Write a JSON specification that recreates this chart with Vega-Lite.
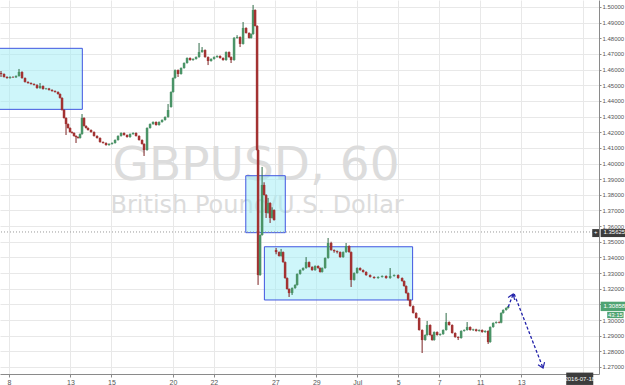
{
  "$schema": "https://vega.github.io/schema/vega-lite/v6.json",
  "width": 599,
  "height": 374,
  "autosize": "none",
  "padding": {"left": 0, "top": 0, "right": 26, "bottom": 11},
  "background": "#ffffff",
  "config": {"view": {"stroke": null}, "font": "Liberation Sans",
    "axisY": {"labelOverlap": false, "labelFlush": false, "labelBound": false},
    "axisX": {"labelOverlap": false, "labelFlush": false}},
  "datasets": {
    "c": [
      {"t":-0.391,"o":1.4578,"h":1.4591,"l":1.4553,"c":1.4572},
      {"t":-0.244,"o":1.4572,"h":1.4576,"l":1.4549,"c":1.4553},
      {"t":-0.098,"o":1.4553,"h":1.4557,"l":1.4542,"c":1.4546},
      {"t":0.049,"o":1.4546,"h":1.4557,"l":1.4542,"c":1.4553},
      {"t":0.195,"o":1.4553,"h":1.4557,"l":1.4547,"c":1.4551},
      {"t":0.342,"o":1.4551,"h":1.4563,"l":1.4547,"c":1.4559},
      {"t":0.488,"o":1.4559,"h":1.4604,"l":1.4555,"c":1.4585},
      {"t":0.635,"o":1.4585,"h":1.4589,"l":1.4542,"c":1.4546},
      {"t":0.781,"o":1.4546,"h":1.4550,"l":1.4517,"c":1.4521},
      {"t":0.928,"o":1.4521,"h":1.4525,"l":1.4510,"c":1.4514},
      {"t":1.074,"o":1.4514,"h":1.4518,"l":1.4504,"c":1.4508},
      {"t":1.221,"o":1.4508,"h":1.4512,"l":1.4498,"c":1.4502},
      {"t":1.367,"o":1.4502,"h":1.4506,"l":1.4478,"c":1.4482},
      {"t":1.514,"o":1.4482,"h":1.4514,"l":1.4478,"c":1.4495},
      {"t":1.660,"o":1.4495,"h":1.4499,"l":1.4472,"c":1.4476},
      {"t":1.807,"o":1.4476,"h":1.4483,"l":1.4472,"c":1.4479},
      {"t":1.953,"o":1.4479,"h":1.4483,"l":1.4466,"c":1.4470},
      {"t":2.100,"o":1.4470,"h":1.4474,"l":1.4459,"c":1.4463},
      {"t":2.246,"o":1.4463,"h":1.4467,"l":1.4453,"c":1.4457},
      {"t":2.393,"o":1.4457,"h":1.4461,"l":1.4440,"c":1.4444},
      {"t":2.490,"o":1.4444,"h":1.4448,"l":1.4415,"c":1.4419},
      {"t":2.588,"o":1.4419,"h":1.4423,"l":1.4338,"c":1.4342},
      {"t":2.686,"o":1.4342,"h":1.4346,"l":1.4287,"c":1.4291},
      {"t":2.783,"o":1.4291,"h":1.4295,"l":1.4182,"c":1.4252},
      {"t":2.881,"o":1.4252,"h":1.4256,"l":1.4223,"c":1.4227},
      {"t":2.979,"o":1.4227,"h":1.4231,"l":1.4197,"c":1.4201},
      {"t":3.076,"o":1.4201,"h":1.4205,"l":1.4191,"c":1.4195},
      {"t":3.174,"o":1.4195,"h":1.4199,"l":1.4172,"c":1.4176},
      {"t":3.271,"o":1.4176,"h":1.4180,"l":1.4131,"c":1.4169},
      {"t":3.369,"o":1.4169,"h":1.4173,"l":1.4159,"c":1.4163},
      {"t":3.467,"o":1.4163,"h":1.4192,"l":1.4159,"c":1.4188},
      {"t":3.564,"o":1.4188,"h":1.4316,"l":1.4184,"c":1.4291},
      {"t":3.662,"o":1.4291,"h":1.4295,"l":1.4236,"c":1.4240},
      {"t":3.760,"o":1.4240,"h":1.4244,"l":1.4223,"c":1.4227},
      {"t":3.857,"o":1.4227,"h":1.4231,"l":1.4210,"c":1.4214},
      {"t":4.004,"o":1.4214,"h":1.4218,"l":1.4197,"c":1.4201},
      {"t":4.150,"o":1.4201,"h":1.4205,"l":1.4172,"c":1.4176},
      {"t":4.297,"o":1.4176,"h":1.4180,"l":1.4159,"c":1.4163},
      {"t":4.443,"o":1.4163,"h":1.4167,"l":1.4133,"c":1.4137},
      {"t":4.590,"o":1.4137,"h":1.4141,"l":1.4127,"c":1.4131},
      {"t":4.736,"o":1.4131,"h":1.4135,"l":1.4114,"c":1.4118},
      {"t":4.883,"o":1.4118,"h":1.4129,"l":1.4114,"c":1.4125},
      {"t":5.029,"o":1.4125,"h":1.4135,"l":1.4121,"c":1.4131},
      {"t":5.176,"o":1.4131,"h":1.4154,"l":1.4127,"c":1.4150},
      {"t":5.322,"o":1.4150,"h":1.4180,"l":1.4146,"c":1.4176},
      {"t":5.469,"o":1.4176,"h":1.4199,"l":1.4172,"c":1.4195},
      {"t":5.615,"o":1.4195,"h":1.4199,"l":1.4178,"c":1.4182},
      {"t":5.762,"o":1.4182,"h":1.4186,"l":1.4165,"c":1.4169},
      {"t":5.908,"o":1.4169,"h":1.4192,"l":1.4165,"c":1.4188},
      {"t":6.055,"o":1.4188,"h":1.4199,"l":1.4184,"c":1.4195},
      {"t":6.201,"o":1.4195,"h":1.4199,"l":1.4172,"c":1.4176},
      {"t":6.348,"o":1.4176,"h":1.4180,"l":1.4146,"c":1.4150},
      {"t":6.494,"o":1.4150,"h":1.4154,"l":1.4121,"c":1.4125},
      {"t":6.592,"o":1.4125,"h":1.4129,"l":1.4048,"c":1.4086},
      {"t":6.738,"o":1.4086,"h":1.4231,"l":1.4082,"c":1.4227},
      {"t":6.885,"o":1.4227,"h":1.4256,"l":1.4223,"c":1.4252},
      {"t":7.031,"o":1.4252,"h":1.4269,"l":1.4248,"c":1.4265},
      {"t":7.178,"o":1.4265,"h":1.4269,"l":1.4242,"c":1.4246},
      {"t":7.324,"o":1.4246,"h":1.4269,"l":1.4242,"c":1.4265},
      {"t":7.471,"o":1.4265,"h":1.4282,"l":1.4261,"c":1.4278},
      {"t":7.617,"o":1.4278,"h":1.4301,"l":1.4274,"c":1.4297},
      {"t":7.764,"o":1.4297,"h":1.4380,"l":1.4293,"c":1.4342},
      {"t":7.910,"o":1.4361,"h":1.4461,"l":1.4357,"c":1.4457},
      {"t":8.008,"o":1.4457,"h":1.4550,"l":1.4453,"c":1.4546},
      {"t":8.105,"o":1.4546,"h":1.4601,"l":1.4542,"c":1.4597},
      {"t":8.252,"o":1.4597,"h":1.4601,"l":1.4553,"c":1.4572},
      {"t":8.398,"o":1.4572,"h":1.4614,"l":1.4568,"c":1.4610},
      {"t":8.545,"o":1.4610,"h":1.4646,"l":1.4606,"c":1.4642},
      {"t":8.691,"o":1.4642,"h":1.4678,"l":1.4638,"c":1.4674},
      {"t":8.838,"o":1.4674,"h":1.4678,"l":1.4657,"c":1.4661},
      {"t":8.984,"o":1.4661,"h":1.4672,"l":1.4657,"c":1.4668},
      {"t":9.131,"o":1.4668,"h":1.4684,"l":1.4664,"c":1.4680},
      {"t":9.277,"o":1.4680,"h":1.4770,"l":1.4676,"c":1.4712},
      {"t":9.424,"o":1.4712,"h":1.4744,"l":1.4708,"c":1.4725},
      {"t":9.570,"o":1.4725,"h":1.4729,"l":1.4676,"c":1.4680},
      {"t":9.717,"o":1.4680,"h":1.4684,"l":1.4629,"c":1.4655},
      {"t":9.863,"o":1.4655,"h":1.4672,"l":1.4651,"c":1.4668},
      {"t":10.010,"o":1.4668,"h":1.4684,"l":1.4664,"c":1.4680},
      {"t":10.156,"o":1.4680,"h":1.4691,"l":1.4676,"c":1.4687},
      {"t":10.303,"o":1.4687,"h":1.4691,"l":1.4670,"c":1.4674},
      {"t":10.449,"o":1.4674,"h":1.4678,"l":1.4657,"c":1.4661},
      {"t":10.596,"o":1.4661,"h":1.4716,"l":1.4657,"c":1.4712},
      {"t":10.742,"o":1.4712,"h":1.4716,"l":1.4676,"c":1.4680},
      {"t":10.840,"o":1.4680,"h":1.4684,"l":1.4642,"c":1.4661},
      {"t":10.986,"o":1.4661,"h":1.4808,"l":1.4657,"c":1.4802},
      {"t":11.133,"o":1.4802,"h":1.4820,"l":1.4798,"c":1.4808},
      {"t":11.279,"o":1.4808,"h":1.4812,"l":1.4744,"c":1.4764},
      {"t":11.426,"o":1.4764,"h":1.4904,"l":1.4760,"c":1.4866},
      {"t":11.572,"o":1.4866,"h":1.4870,"l":1.4830,"c":1.4834},
      {"t":11.719,"o":1.4834,"h":1.4838,"l":1.4798,"c":1.4802},
      {"t":11.816,"o":1.4802,"h":1.4831,"l":1.4798,"c":1.4827},
      {"t":11.914,"o":1.4827,"h":1.5013,"l":1.4823,"c":1.4981},
      {"t":12.012,"o":1.4981,"h":1.4985,"l":1.4875,"c":1.4879},
      {"t":12.109,"o":1.4879,"h":1.4883,"l":1.4082,"c":1.4086},
      {"t":12.158,"o":1.4086,"h":1.4090,"l":1.3224,"c":1.3287},
      {"t":12.256,"o":1.3287,"h":1.3547,"l":1.3283,"c":1.3543},
      {"t":12.354,"o":1.3543,"h":1.3978,"l":1.3539,"c":1.3863},
      {"t":12.451,"o":1.3863,"h":1.3880,"l":1.3795,"c":1.3799},
      {"t":12.549,"o":1.3799,"h":1.3803,"l":1.3652,"c":1.3684},
      {"t":12.646,"o":1.3684,"h":1.3780,"l":1.3680,"c":1.3748},
      {"t":12.744,"o":1.3748,"h":1.3752,"l":1.3620,"c":1.3652},
      {"t":12.842,"o":1.3652,"h":1.3720,"l":1.3648,"c":1.3703},
      {"t":12.939,"o":1.3703,"h":1.3707,"l":1.3635,"c":1.3639},
      {"t":13.037,"o":1.3447,"h":1.3460,"l":1.3420,"c":1.3434},
      {"t":13.184,"o":1.3434,"h":1.3438,"l":1.3405,"c":1.3409},
      {"t":13.281,"o":1.3409,"h":1.3454,"l":1.3405,"c":1.3434},
      {"t":13.379,"o":1.3434,"h":1.3438,"l":1.3366,"c":1.3370},
      {"t":13.477,"o":1.3370,"h":1.3374,"l":1.3264,"c":1.3268},
      {"t":13.574,"o":1.3268,"h":1.3272,"l":1.3194,"c":1.3198},
      {"t":13.672,"o":1.3198,"h":1.3202,"l":1.3147,"c":1.3172},
      {"t":13.818,"o":1.3172,"h":1.3208,"l":1.3160,"c":1.3204},
      {"t":13.965,"o":1.3204,"h":1.3228,"l":1.3200,"c":1.3224},
      {"t":14.063,"o":1.3224,"h":1.3298,"l":1.3220,"c":1.3294},
      {"t":14.209,"o":1.3294,"h":1.3323,"l":1.3290,"c":1.3319},
      {"t":14.355,"o":1.3319,"h":1.3336,"l":1.3315,"c":1.3332},
      {"t":14.502,"o":1.3332,"h":1.3402,"l":1.3328,"c":1.3370},
      {"t":14.648,"o":1.3370,"h":1.3374,"l":1.3335,"c":1.3339},
      {"t":14.795,"o":1.3339,"h":1.3343,"l":1.3315,"c":1.3319},
      {"t":14.941,"o":1.3319,"h":1.3349,"l":1.3315,"c":1.3345},
      {"t":15.088,"o":1.3345,"h":1.3349,"l":1.3328,"c":1.3332},
      {"t":15.186,"o":1.3332,"h":1.3336,"l":1.3303,"c":1.3307},
      {"t":15.283,"o":1.3307,"h":1.3336,"l":1.3303,"c":1.3332},
      {"t":15.430,"o":1.3332,"h":1.3400,"l":1.3328,"c":1.3396},
      {"t":15.576,"o":1.3396,"h":1.3524,"l":1.3392,"c":1.3492},
      {"t":15.723,"o":1.3492,"h":1.3500,"l":1.3443,"c":1.3447},
      {"t":15.869,"o":1.3447,"h":1.3451,"l":1.3430,"c":1.3440},
      {"t":16.016,"o":1.3440,"h":1.3444,"l":1.3425,"c":1.3434},
      {"t":16.162,"o":1.3434,"h":1.3438,"l":1.3398,"c":1.3402},
      {"t":16.309,"o":1.3402,"h":1.3438,"l":1.3398,"c":1.3434},
      {"t":16.455,"o":1.3434,"h":1.3492,"l":1.3430,"c":1.3473},
      {"t":16.602,"o":1.3473,"h":1.3477,"l":1.3430,"c":1.3434},
      {"t":16.699,"o":1.3434,"h":1.3438,"l":1.3211,"c":1.3256},
      {"t":16.846,"o":1.3256,"h":1.3304,"l":1.3252,"c":1.3300},
      {"t":16.992,"o":1.3300,"h":1.3336,"l":1.3296,"c":1.3332},
      {"t":17.139,"o":1.3332,"h":1.3336,"l":1.3315,"c":1.3319},
      {"t":17.285,"o":1.3319,"h":1.3323,"l":1.3303,"c":1.3307},
      {"t":17.432,"o":1.3307,"h":1.3311,"l":1.3283,"c":1.3287},
      {"t":17.627,"o":1.3287,"h":1.3291,"l":1.3271,"c":1.3275},
      {"t":17.822,"o":1.3275,"h":1.3279,"l":1.3264,"c":1.3268},
      {"t":18.018,"o":1.3268,"h":1.3279,"l":1.3264,"c":1.3275},
      {"t":18.213,"o":1.3275,"h":1.3285,"l":1.3271,"c":1.3281},
      {"t":18.408,"o":1.3281,"h":1.3285,"l":1.3264,"c":1.3268},
      {"t":18.604,"o":1.3268,"h":1.3332,"l":1.3264,"c":1.3281},
      {"t":18.799,"o":1.3281,"h":1.3291,"l":1.3277,"c":1.3287},
      {"t":18.994,"o":1.3287,"h":1.3291,"l":1.3264,"c":1.3268},
      {"t":19.189,"o":1.3268,"h":1.3272,"l":1.3245,"c":1.3249},
      {"t":19.287,"o":1.3249,"h":1.3253,"l":1.3213,"c":1.3217},
      {"t":19.385,"o":1.3217,"h":1.3221,"l":1.3168,"c":1.3172},
      {"t":19.482,"o":1.3172,"h":1.3176,"l":1.3124,"c":1.3128},
      {"t":19.580,"o":1.3128,"h":1.3132,"l":1.3085,"c":1.3089},
      {"t":19.727,"o":1.3089,"h":1.3093,"l":1.3041,"c":1.3045},
      {"t":19.873,"o":1.3045,"h":1.3049,"l":1.3009,"c":1.3013},
      {"t":20.020,"o":1.3013,"h":1.3017,"l":1.2932,"c":1.2936},
      {"t":20.166,"o":1.2936,"h":1.2940,"l":1.2789,"c":1.2872},
      {"t":20.313,"o":1.2872,"h":1.2908,"l":1.2868,"c":1.2904},
      {"t":20.410,"o":1.2904,"h":1.2994,"l":1.2900,"c":1.2968},
      {"t":20.557,"o":1.2968,"h":1.2972,"l":1.2900,"c":1.2904},
      {"t":20.654,"o":1.2904,"h":1.2908,"l":1.2868,"c":1.2872},
      {"t":20.752,"o":1.2872,"h":1.2927,"l":1.2868,"c":1.2923},
      {"t":20.898,"o":1.2923,"h":1.2927,"l":1.2900,"c":1.2904},
      {"t":21.045,"o":1.2904,"h":1.2914,"l":1.2900,"c":1.2910},
      {"t":21.191,"o":1.2910,"h":1.2940,"l":1.2906,"c":1.2936},
      {"t":21.338,"o":1.2936,"h":1.3045,"l":1.2932,"c":1.2987},
      {"t":21.484,"o":1.2987,"h":1.2991,"l":1.2964,"c":1.2968},
      {"t":21.631,"o":1.2968,"h":1.2972,"l":1.2913,"c":1.2917},
      {"t":21.777,"o":1.2917,"h":1.2921,"l":1.2887,"c":1.2891},
      {"t":21.924,"o":1.2891,"h":1.2895,"l":1.2872,"c":1.2885},
      {"t":22.070,"o":1.2885,"h":1.2934,"l":1.2881,"c":1.2930},
      {"t":22.217,"o":1.2930,"h":1.2940,"l":1.2926,"c":1.2936},
      {"t":22.363,"o":1.2936,"h":1.2987,"l":1.2932,"c":1.2955},
      {"t":22.510,"o":1.2955,"h":1.2959,"l":1.2932,"c":1.2936},
      {"t":22.656,"o":1.2936,"h":1.2944,"l":1.2930,"c":1.2940},
      {"t":22.803,"o":1.2940,"h":1.2944,"l":1.2926,"c":1.2930},
      {"t":22.949,"o":1.2930,"h":1.2940,"l":1.2926,"c":1.2936},
      {"t":23.096,"o":1.2936,"h":1.2940,"l":1.2919,"c":1.2923},
      {"t":23.242,"o":1.2923,"h":1.2934,"l":1.2919,"c":1.2930},
      {"t":23.389,"o":1.2930,"h":1.2934,"l":1.2847,"c":1.2859},
      {"t":23.486,"o":1.2859,"h":1.2959,"l":1.2855,"c":1.2955},
      {"t":23.633,"o":1.2955,"h":1.2985,"l":1.2951,"c":1.2981},
      {"t":23.779,"o":1.2981,"h":1.2991,"l":1.2977,"c":1.2987},
      {"t":23.926,"o":1.2987,"h":1.2991,"l":1.2979,"c":1.2983},
      {"t":24.023,"o":1.2983,"h":1.3049,"l":1.2979,"c":1.3045},
      {"t":24.121,"o":1.3045,"h":1.3068,"l":1.3041,"c":1.3064},
      {"t":24.268,"o":1.3064,"h":1.3081,"l":1.3060,"c":1.3077},
      {"t":24.365,"o":1.3077,"h":1.3090,"l":1.3073,"c":1.3086}
    ],
    "boxes": [
      {"t1": -1.0, "t2": 3.579, "v1": 1.4736, "v2": 1.4346},
      {"t1": 11.558, "t2": 13.486, "v1": 1.3922, "v2": 1.3558},
      {"t1": 12.466, "t2": 19.702, "v1": 1.3468, "v2": 1.3128}
    ],
    "arrow": [
      {"seg": "A", "t": 24.37, "v": 1.3083, "tip": false},
      {"seg": "A", "t": 24.61, "v": 1.3166, "tip": true},
      {"seg": "B", "t": 24.66, "v": 1.3166, "tip": false},
      {"seg": "B", "t": 26.07, "v": 1.2693, "tip": true}
    ]
  },
  "encoding": {
    "x": {"field": "t", "type": "quantitative"}
  },
  "layer": [
    {
      "data": {"values": [{"t": 12.06, "v": 1.3894, "txt": "GBPUSD, 60"}]},
      "mark": {"type": "text", "font": "DejaVu Sans", "fontSize": 47, "fill": "#dcdcdc", "align": "center", "baseline": "alphabetic"},
      "encoding": {
        "x": {"field": "t", "type": "quantitative", "scale": {"domain": [-0.44, 28.8], "nice": false, "zero": false, "padding": 0},
          "axis": {"orient": "bottom", "values": [0, 3, 5, 8, 10, 13, 15, 17, 19, 21, 23, 25, 28], "tickCount": 40,
            "labelExpr": "['8','','','13','','15','','','20','','22','','','27','','29','','Jul','','5','','7','','11','','13','','','',''][datum.value]",
            "title": null, "grid": true, "gridColor": "#e8e8e8", "domainColor": "#8a8a8a", "tickColor": "#8a8a8a", "tickSize": 3,
            "labelFontSize": 7, "labelColor": "#555555", "labelPadding": 1, "labelFont": "Liberation Sans"}},
        "y": {"field": "v", "type": "quantitative", "scale": {"domain": [1.2655, 1.50447], "nice": false, "zero": false, "padding": 0},
          "axis": {"orient": "right", "values": [1.27,1.28,1.29,1.30,1.31,1.32,1.33,1.34,1.35,1.36,1.37,1.38,1.39,1.40,1.41,1.42,1.43,1.44,1.45,1.46,1.47,1.48,1.49,1.50], "tickCount": 40,
            "format": ".5f", "title": null, "grid": true, "gridColor": "#e8e8e8", "domainColor": "#8a8a8a", "tickColor": "#8a8a8a", "tickSize": 2,
            "labelFontSize": 6, "labelColor": "#555555", "labelPadding": 1, "labelFont": "Liberation Sans"}},
        "text": {"field": "txt"}
      }
    },
    {
      "data": {"values": [{"t": 12.11, "v": 1.3684, "txt": "British Pound/U.S. Dollar"}]},
      "mark": {"type": "text", "font": "DejaVu Sans", "fontSize": 24, "fill": "#dcdcdc", "align": "center", "baseline": "alphabetic"},
      "encoding": {
        "y": {"field": "v", "type": "quantitative"},
        "text": {"field": "txt"}
      }
    },
    {
      "data": {"name": "boxes"},
      "mark": {"type": "rect", "fill": "#9eeef5", "fillOpacity": 0.5, "stroke": "#3f55e0", "strokeWidth": 1, "clip": true},
      "encoding": {
        "x": {"field": "t1", "type": "quantitative"},
        "x2": {"field": "t2"},
        "y": {"field": "v1", "type": "quantitative"},
        "y2": {"field": "v2"}
      }
    },
    {
      "data": {"values": [{"v": 1.35625}]},
      "mark": {"type": "rule", "stroke": "#9a9a9a", "strokeDash": [1, 2], "strokeWidth": 1},
      "encoding": {
        "x": null,
        "y": {"field": "v", "type": "quantitative"}
      }
    },
    {
      "data": {"name": "c"},
      "mark": {"type": "rule", "strokeWidth": 1},
      "encoding": {
        "y": {"field": "l", "type": "quantitative"},
        "y2": {"field": "h"},
        "color": {"condition": {"test": "datum.c >= datum.o", "value": "#2f6b47"}, "value": "#7a2020"}
      }
    },
    {
      "data": {"name": "c"},
      "mark": {"type": "bar", "size": 2.5},
      "encoding": {
        "y": {"field": "o", "type": "quantitative"},
        "y2": {"field": "c"},
        "color": {"condition": {"test": "datum.c >= datum.o", "value": "#4a9467"}, "value": "#a33232"}
      }
    },
    {
      "data": {"name": "arrow"},
      "mark": {"type": "line", "stroke": "#2222aa", "strokeDash": [3, 2], "strokeWidth": 1.3},
      "encoding": {
        "y": {"field": "v", "type": "quantitative"},
        "detail": {"field": "seg"}
      }
    },
    {
      "data": {"name": "arrow"},
      "transform": [{"filter": "datum.tip && datum.seg == 'A'"}],
      "mark": {"type": "point", "shape": "M-0.7,1L0,0L0.7,1", "filled": false, "stroke": "#2222aa", "strokeWidth": 1.2, "size": 100, "angle": 21, "opacity": 1},
      "encoding": {"y": {"field": "v", "type": "quantitative"}}
    },
    {
      "data": {"name": "arrow"},
      "transform": [{"filter": "datum.tip && datum.seg == 'B'"}],
      "mark": {"type": "point", "shape": "M-0.7,1L0,0L0.7,1", "filled": false, "stroke": "#2222aa", "strokeWidth": 1.2, "size": 100, "angle": 159, "opacity": 1},
      "encoding": {"y": {"field": "v", "type": "quantitative"}}
    },
    {
      "data": {"values": [
        {"t1": 28.47, "t2": 28.8, "v1": 1.3581, "v2": 1.3530},
        {"t1": 28.88, "t2": 30.2, "v1": 1.3581, "v2": 1.3530},
        {"t1": 27.2, "t2": 28.52, "v1": 1.2664, "v2": 1.2585}
      ]},
      "mark": {"type": "rect", "fill": "#3c3c3c"},
      "encoding": {
        "x": {"field": "t1", "type": "quantitative"},
        "x2": {"field": "t2"},
        "y": {"field": "v1", "type": "quantitative"},
        "y2": {"field": "v2"}
      }
    },
    {
      "data": {"values": [
        {"t1": 28.88, "t2": 30.2, "v1": 1.3117, "v2": 1.3057},
        {"t1": 29.2, "t2": 30.0, "v1": 1.3052, "v2": 1.3012}
      ]},
      "mark": {"type": "rect", "fill": "#4fa372"},
      "encoding": {
        "x": {"field": "t1", "type": "quantitative"},
        "x2": {"field": "t2"},
        "y": {"field": "v1", "type": "quantitative"},
        "y2": {"field": "v2"}
      }
    },
    {
      "data": {"values": [
        {"t": 28.64, "v": 1.35625, "txt": "+"},
        {"t": 29.55, "v": 1.35625, "txt": "1.35625"},
        {"t": 29.55, "v": 1.3087, "txt": "1.30858"},
        {"t": 29.6, "v": 1.3032, "txt": "43:15"},
        {"t": 27.86, "v": 1.2625, "txt": "2016-07-18"}
      ]},
      "mark": {"type": "text", "fill": "#ffffff", "fontSize": 6, "align": "center", "baseline": "middle", "font": "Liberation Sans"},
      "encoding": {
        "y": {"field": "v", "type": "quantitative"},
        "text": {"field": "txt"}
      }
    }
  ]
}
